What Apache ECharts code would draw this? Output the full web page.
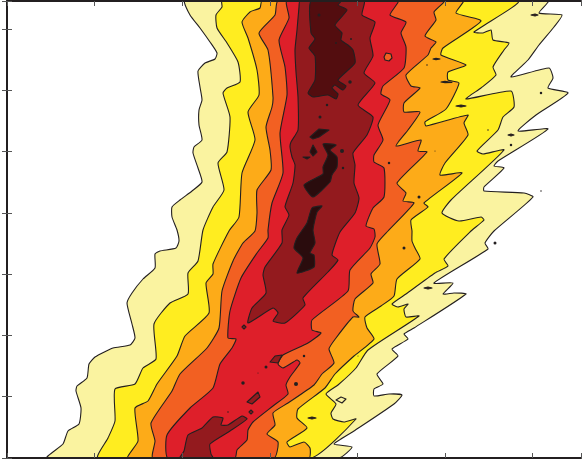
<!DOCTYPE html>
<html><head><meta charset="utf-8">
<style>html,body{margin:0;padding:0;background:#fff}#c{width:582px;height:462px}</style>
<script src="https://cdn.jsdelivr.net/npm/echarts@6/dist/echarts.min.js"></script>
</head><body><div id="c"></div>
<script>
const level1=[[178,457],[183,443],[193,430],[203,416],[210,405],[208,399],[198,395],[191,387],[193,371],[195,358],[192,348],[192,333],[195,318],[187,311],[186,305],[191,290],[195,276],[185,267],[173,258],[165,251],[165,241],[170,228],[172,217],[169,210],[153,207],[148,204],[148,190],[136,179],[125,165],[120,155],[125,134],[128,120],[123,113],[106,110],[88,101],[82,94],[80,80],[70,72],[69,67],[74,50],[72,34],[61,27],[56,14],[40,0],
[332,0],[345,11],[327,14],[347,27],[387,54],[395,63],[382,64],[367,62],[367,69],[376,74],[370,84],[391,102],[385,109],[401,119],[397,124],[407,130],[459,164],[447,165],[436,164],[446,175],[427,175],[481,209],[478,215],[487,227],[526,261],[517,265],[477,267],[477,271],[497,290],[487,292],[491,297],[541,329],[511,327],[529,343],[561,365],[541,370],[546,380],[542,390],[504,381],[521,398],[532,413],[547,431],[555,443],[532,445],[541,457]];
const level2=[[215,457],[215,451],[209,443],[210,430],[220,415],[231,396],[233,376],[220,370],[216,365],[223,341],[220,306],[211,295],[217,268],[206,251],[196,228],[191,197],[181,185],[181,164],[163,155],[147,134],[149,99],[136,90],[128,74],[108,69],[108,37],[101,20],[91,0],
[304,0],[349,39],[337,36],[326,39],[324,45],[329,54],[319,64],[331,73],[349,90],[361,108],[412,142],[399,141],[397,149],[401,154],[391,151],[385,154],[399,164],[428,185],[441,192],[437,199],[464,227],[477,238],[474,241],[452,237],[435,245],[444,258],[497,308],[476,304],[470,307],[491,328],[496,341],[507,351],[504,367],[459,359],[474,370],[489,383],[486,391],[497,408],[502,415],[486,418],[484,428],[476,425],[467,426],[511,457]];
const level3=[[255,457],[253,450],[243,446],[235,436],[241,420],[250,388],[252,363],[241,346],[248,318],[235,285],[232,241],[222,227],[206,194],[206,184],[199,175],[202,145],[178,122],[170,102],[150,74],[141,57],[128,50],[131,17],[121,0],
[302,0],[303,10],[297,16],[283,11],[280,16],[300,30],[290,40],[291,49],[318,70],[328,84],[347,102],[367,119],[360,130],[358,141],[374,152],[387,162],[390,179],[413,199],[408,210],[405,217],[405,227],[404,238],[421,251],[417,255],[455,285],[433,283],[438,295],[461,323],[457,335],[461,343],[419,332],[418,336],[439,349],[452,375],[441,378],[441,386],[459,393],[434,403],[436,410],[474,437],[449,445],[456,457]];
const level4=[[271,457],[268,443],[252,425],[261,408],[266,361],[265,351],[259,331],[263,308],[264,288],[250,268],[250,245],[248,227],[236,215],[226,197],[215,167],[212,130],[200,110],[173,84],[165,67],[144,35],[148,17],[146,0],
[267,0],[271,16],[260,24],[268,33],[266,45],[281,55],[307,73],[315,84],[327,95],[322,109],[329,120],[346,141],[352,141],[346,147],[348,159],[366,175],[364,184],[373,194],[370,214],[381,227],[407,255],[396,257],[399,265],[390,275],[420,306],[411,307],[414,318],[389,312],[401,328],[413,346],[397,346],[397,355],[413,370],[404,372],[399,383],[421,403],[424,410],[429,416],[418,422],[429,438],[427,446],[437,457]];
const level5=[[280,457],[282,440],[272,418],[278,391],[280,363],[273,325],[276,285],[265,255],[261,228],[261,220],[250,205],[234,180],[223,147],[221,120],[229,119],[225,110],[213,94],[206,70],[183,50],[160,23],[161,0],
[228,0],[230,8],[240,18],[241,28],[246,36],[266,52],[281,64],[279,73],[283,81],[293,95],[290,98],[276,90],[271,94],[276,103],[301,115],[314,125],[305,128],[305,138],[341,167],[343,188],[363,210],[368,221],[367,229],[359,232],[366,250],[377,261],[377,290],[367,296],[367,303],[376,318],[371,333],[383,358],[374,364],[376,372],[397,390],[399,411],[394,425],[399,436],[383,443],[391,457]];
const level6=[[293,457],[292,451],[290,428],[288,408],[289,386],[291,361],[291,328],[284,316],[283,311],[285,301],[288,293],[286,275],[280,258],[278,251],[282,243],[275,228],[275,215],[258,191],[256,183],[259,165],[245,150],[241,135],[266,150],[271,145],[266,137],[278,135],[298,153],[296,160],[321,186],[331,198],[325,203],[333,226],[348,245],[352,260],[347,275],[348,293],[346,305],[360,323],[366,341],[351,353],[368,375],[357,385],[366,402],[363,420],[368,436],[355,443],[357,457]];
const level6Low=[[173,0],[177,7],[181,23],[195,30],[206,41],[216,40],[214,33],[221,33],[235,42],[240,39],[223,27],[203,14],[204,4],[206,0]];
const level6IslandA=[[263,96],[268,102],[275,103],[271,95]];
const level6IslandB=[[240,56],[251,66],[253,61],[245,54]];
const level6IslandC=[[242,46],[244,48],[246,46],[244,44]];
const level6IslandD=[[235,131],[237,133],[239,131],[237,129]];
const level4Ring=[[377,401],[379,405],[384,404],[385,400],[382,397],[378,398]];
const level1Ring=[[329,58],[334,61],[339,59],[335,55]];
const level7=[[304,457],[304,425],[308,419],[302,410],[308,402],[308,378],[301,365],[306,361],[321,363],[329,359],[331,364],[325,370],[328,373],[336,368],[339,372],[331,378],[348,395],[346,408],[341,413],[334,418],[335,425],[328,433],[340,448],[331,453],[334,457]];
const level8A=[[303,321],[312,329],[322,328],[312,321],[306,319]];
const level8B=[[303,306],[306,313],[310,306],[306,302]];
const level8C=[[296,301],[303,301],[300,299]];
const level8D=[[316,314],[329,313],[323,308],[330,301],[330,291],[325,283],[323,276],[306,261],[297,273],[316,284],[316,291],[321,303]];
const level8E=[[305,250],[315,252],[310,246],[306,228],[308,215],[303,205],[307,203],[307,191],[290,185],[296,200],[287,210],[290,220],[300,235]];
const spotA=[[426,399],[429,399.6],[433,399],[429,398.4]];
const spotB=[[434,376],[438,376.6],[445,375.5],[438,375.2]];
const spotC=[[449,352],[454,353],[459,352],[454,351]];
const spotD=[[417,170],[421,171],[425,170],[421,169]];
const spotE=[[301,40],[305,41],[309,40],[305,39]];
const spotF=[[524,443],[528,444],[531,443],[528,442]];
const spotG=[[501,323],[504,324],[507,323],[504,322]];
const dotValues=[[534,365,2.5],[504,313,2.5],[481,328,1.5],[420,393,1.5],[428,307,1],[382,295,2.5],[412,261,3],[534,267,1.5],[488,215,3],[397,210,3],[297,102,2.5],[351,102,1],[289,74,4],[236,75,3.5],[259,91,3],[251,85,1],[221,46,1.5],[312,443,3],[329,415,2],[344,419,2],[343,376,3.5],[320,353,2.5],[313,341,3],[335,307,4],[336,290,2.5]];
const xTickStep=87.6, yTickStep=61.3, xMax=574, yMax=457;
const colors=['#faf3a0','#ffed20','#fdab18','#f26022','#de1f2a','#931a1e','#530d0f','#2a0c0d'];
const ink='#231f20';
const polygons=[[level1,0],[level2,1],[level3,2],[level4,3],[level5,4],[level6,5],[level6Low,5],[level6IslandA,5],[level6IslandB,5],[level6IslandC,5],[level6IslandD,5],[level4Ring,3],[level1Ring,0],[level7,6],[level8A,7],[level8B,7],[level8C,7],[level8D,7],[level8E,7],[spotA,7],[spotB,7],[spotC,7],[spotD,7],[spotE,7],[spotF,7],[spotG,7]];
const polySeries=polygons.map(([pts,c])=>({
  type:'custom',coordinateSystem:'cartesian2d',xAxisIndex:0,yAxisIndex:0,silent:true,animation:false,z:2,clip:true,
  data:pts,
  renderItem:(p,api)=>p.dataIndex!==0?null:({type:'polygon',
    shape:{points:pts.map(q=>api.coord(q)),smooth:pts.length>10?0.18:0},
    style:{fill:colors[c],stroke:ink,lineWidth:1.1,lineJoin:'round'}})
}));
const chart=echarts.init(document.getElementById('c'),null,{renderer:'canvas'});
const axisBase=(extra)=>Object.assign({type:'value',min:0,z:10,axisLabel:{show:false},splitLine:{show:false},
  axisTick:{show:true,inside:true,length:5,lineStyle:{color:'#555',width:1}},
  axisLine:{show:true,onZero:false,lineStyle:{color:ink,width:2}}},extra);
chart.setOption({
  animation:false,backgroundColor:'#fff',
  grid:{left:7,right:1,top:1,bottom:4,containLabel:false},
  xAxis:[axisBase({position:'bottom',max:xMax,interval:xTickStep}),axisBase({position:'top',max:xMax,interval:xTickStep})],
  yAxis:[axisBase({position:'left',max:yMax,interval:yTickStep}),axisBase({position:'right',max:yMax,interval:yTickStep,axisLine:{show:false}})],
  series:polySeries.concat([{type:'scatter',xAxisIndex:0,yAxisIndex:0,silent:true,z:3,data:dotValues,
    symbolSize:v=>v[2],itemStyle:{color:ink,opacity:1}}])
});
</script></body></html>
